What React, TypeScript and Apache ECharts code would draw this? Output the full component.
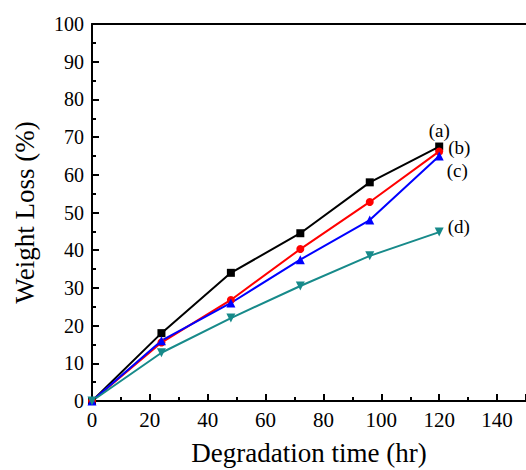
import React, { useEffect, useRef } from "react";
import * as echarts from "echarts";

const hours = [0, 24, 48, 72, 96, 120];
const seriesA = [0, 18, 34, 44.5, 58, 67.5];
const seriesB = [0, 15.5, 26.8, 40.3, 52.8, 66.2];
const seriesC = [0, 16, 26, 37.5, 48, 65];
const seriesD = [0, 12.8, 22, 30.5, 38.5, 44.8];
const labels = ["(a)", "(b)", "(c)", "(d)"];

const FONT = "Liberation Serif";

export default function App() {
  const ref = useRef<HTMLDivElement>(null);
  useEffect(() => {
    if (!ref.current) return;
    document.body.style.margin = "0";
    const chart = echarts.init(ref.current, null, { renderer: "svg" });
    const mk = (
      name: string,
      vals: number[],
      color: string,
      symbol: string,
      size: number,
      rotate: number,
      labelCfg: any
    ) => ({
      name,
      type: "line",
      symbol,
      symbolSize: size,
      symbolRotate: rotate,
      lineStyle: { color, width: 2 },
      itemStyle: { color },
      data: vals.map((v, i) =>
        i === vals.length - 1
          ? {
              value: [hours[i], v],
              label: {
                show: true,
                formatter: name,
                fontFamily: FONT,
                fontSize: 19,
                color: "#000",
                ...labelCfg,
              },
            }
          : { value: [hours[i], v] }
      ),
      z: 2,
    });
    chart.setOption({
      animation: false,
      backgroundColor: "#fff",
      textStyle: { fontFamily: FONT },
      grid: { left: 92, top: 24, right: 0, bottom: 69, outerBoundsMode: "none" },
      xAxis: [
        {
          type: "value",
          min: 0,
          max: 150,
          interval: 20,
          name: "Degradation time (hr)",
          nameLocation: "middle",
          nameGap: 38,
          nameTextStyle: { fontFamily: FONT, fontSize: 27, color: "#000" },
          axisLine: { lineStyle: { color: "#000", width: 2 } },
          axisTick: { inside: true, length: 7, lineStyle: { color: "#000", width: 2 } },
          minorTick: { show: true, splitNumber: 2, length: 4, lineStyle: { color: "#000", width: 2 } },
          axisLabel: {
            fontFamily: FONT,
            fontSize: 21,
            color: "#000",
            margin: 8,
            formatter: (v: number) => (v > 140 ? "" : String(v)),
          },
          splitLine: { show: false },
        },
        {
          type: "value",
          position: "top",
          min: 0,
          max: 150,
          axisLine: { show: true, onZero: false, lineStyle: { color: "#000", width: 2 } },
          axisTick: { show: false },
          axisLabel: { show: false },
          splitLine: { show: false },
        },
      ],
      yAxis: {
        type: "value",
        min: 0,
        max: 100,
        interval: 10,
        name: "Weight Loss (%)",
        nameLocation: "middle",
        nameGap: 54,
        nameTextStyle: { fontFamily: FONT, fontSize: 27, color: "#000" },
        axisLine: { show: true, lineStyle: { color: "#000", width: 2 } },
        axisTick: { inside: true, length: 7, lineStyle: { color: "#000", width: 2 } },
        minorTick: { show: true, splitNumber: 2, length: 4, lineStyle: { color: "#000", width: 2 } },
        axisLabel: { fontFamily: FONT, fontSize: 20, color: "#000", margin: 8 },
        splitLine: { show: false },
      },
      series: [
        mk(labels[0], seriesA, "#000000", "rect", 8, 0, { position: "top", distance: 3 }),
        mk(labels[1], seriesB, "#ff0000", "circle", 8, 0, { position: "right", distance: 5, offset: [0, -4] }),
        mk(labels[2], seriesC, "#0000ff", "triangle", 9, 0, { position: "right", distance: 3, offset: [0, 15] }),
        mk(labels[3], seriesD, "#178a8a", "triangle", 9, 180, { position: "right", distance: 4, offset: [0, -6] }),
      ],
    });
    return () => chart.dispose();
  }, []);
  return (
    <div>
      <style>{`svg text { font-family: 'Liberation Serif', 'Times New Roman', serif !important; }`}</style>
      <div ref={ref} style={{ width: 526, height: 470 }} />
    </div>
  );
}
